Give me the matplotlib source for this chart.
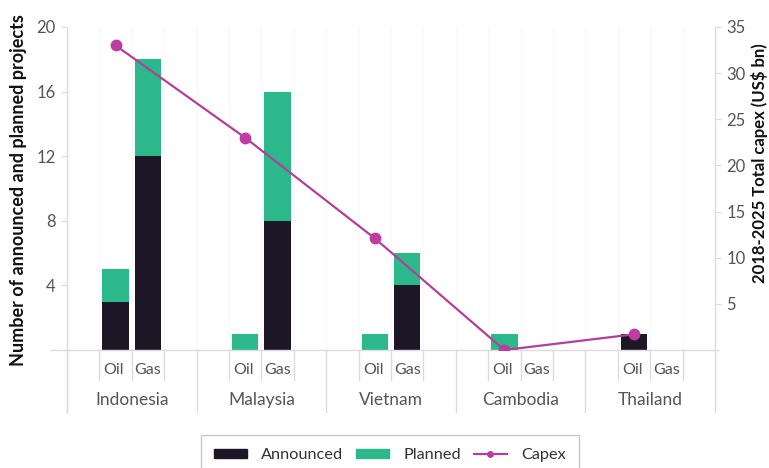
import matplotlib
matplotlib.use("Agg")
import matplotlib.pyplot as plt
from matplotlib.patches import Patch
from matplotlib.lines import Line2D
import matplotlib.transforms as mtransforms

countries = ["Indonesia", "Malaysia", "Vietnam", "Cambodia", "Thailand"]
fuels = ["Oil", "Gas"]
announced_oil = [3, 0, 0, 0, 1]
planned_oil = [2, 1, 1, 1, 0]
announced_gas = [12, 8, 4, 0, 0]
planned_gas = [6, 8, 2, 0, 0]
capex = [33.0, 23.0, 12.1, 0.0, 1.7]
left_ticks = [4, 8, 12, 16, 20]
right_ticks = [5, 10, 15, 20, 25, 30, 35]

plt.rcParams['font.family'] = ['Lato', 'DejaVu Sans']

DARK = "#1c1626"
GREEN = "#2bb98b"
MAG = "#b2409a"
GRID = "#dcdcdc"
TXT = "#555555"

fig = plt.figure(figsize=(7.69, 4.68), dpi=100)
ax = fig.add_axes([67/769, 1-350/468, (715-67)/769, 323/468])
ax2 = ax.twinx()

slots_per = 4
oil_x = [slots_per*i + 1.5 for i in range(len(countries))]
gas_x = [slots_per*i + 2.5 for i in range(len(countries))]
w = 0.82

ax.bar(oil_x, announced_oil, width=w, color=DARK, zorder=3)
ax.bar(oil_x, planned_oil, width=w, bottom=announced_oil, color=GREEN, zorder=3)
ax.bar(gas_x, announced_gas, width=w, color=DARK, zorder=3)
ax.bar(gas_x, planned_gas, width=w, bottom=announced_gas, color=GREEN, zorder=3)

ax2.plot(oil_x, capex, color=MAG, lw=1.6, marker='o', ms=7.5,
         markerfacecolor="#c03ba2", markeredgecolor="#c03ba2", zorder=5)

n = slots_per*len(countries)
ax.set_xlim(0, n)
ax.set_ylim(0, 20)
ax2.set_ylim(0, 35)

ax.set_yticks(left_ticks)
ax.set_yticklabels([str(t) for t in left_ticks])
ax2.set_yticks(right_ticks)
ax2.set_yticklabels([str(t) for t in right_ticks])
ax.set_xticks([])

for a in (ax, ax2):
    for s in a.spines.values():
        s.set_visible(False)
    a.tick_params(axis='y', length=4, width=0.8, color=GRID, labelcolor=TXT,
                  labelsize=12, pad=4)

# very faint vertical gridlines
for b in range(1, n):
    ax.axvline(b, color="#f8f8f8", lw=0.8, zorder=0)

trans = mtransforms.blended_transform_factory(ax.transData, ax.transAxes)
ax.plot([-0.5, n+0.1], [0, 0], transform=trans, color=GRID, lw=1.0, clip_on=False, zorder=4)
ax.plot([0, 0], [1.0, -0.192], transform=trans, color=GRID, lw=1.0, clip_on=False)
ax.plot([n, n], [1.0, 0], transform=trans, color=GRID, lw=1.0, clip_on=False)
for b in range(0, n+1):
    if b % slots_per == 0:
        ax.plot([b, b], [0, -0.192], transform=trans, color=GRID, lw=1.0, clip_on=False)
    else:
        ax.plot([b, b], [0, -0.093], transform=trans, color=GRID, lw=1.0, clip_on=False)

for i, c in enumerate(countries):
    ax.text(oil_x[i] - 0.05, -0.062, fuels[0], transform=trans, ha='center', va='center',
            fontsize=11.5, color=TXT)
    ax.text(gas_x[i], -0.062, fuels[1], transform=trans, ha='center', va='center',
            fontsize=11.5, color=TXT)
    ax.text(slots_per*i + 2, -0.155, c, transform=trans, ha='center', va='center',
            fontsize=12.5, color=TXT)

ax.set_ylabel("Number of announced and planned projects", fontsize=13, fontweight='bold',
              color="#111111")
ax.yaxis.set_label_coords(-0.061, 0.495)
ax2.set_ylabel("2018-2025 Total capex (US\\$ bn)", fontsize=12, fontweight='bold',
               color="#111111")
ax2.yaxis.set_label_coords(1.055, 0.579)

handles = [Patch(facecolor=DARK, edgecolor=DARK),
           Patch(facecolor=GREEN, edgecolor=GREEN),
           Line2D([0], [0], color=MAG, lw=1.6, marker='o', ms=4,
                  markerfacecolor="#c03ba2", markeredgecolor="#c03ba2")]
leg = fig.legend(handles, ["Announced", "Planned", "Capex"], loc='upper center',
                 bbox_to_anchor=(390/769, 1-427/468), ncol=3, frameon=True,
                 fontsize=11.7, handlelength=2.0, handleheight=0.5, columnspacing=0.8,
                 handletextpad=0.9, borderpad=0.8, fancybox=False)
leg.get_frame().set_edgecolor("#bbbbbb")
leg.get_frame().set_linewidth(1.0)
for t in leg.get_texts():
    t.set_color("#333333")

fig.savefig("out.png", dpi=100)
